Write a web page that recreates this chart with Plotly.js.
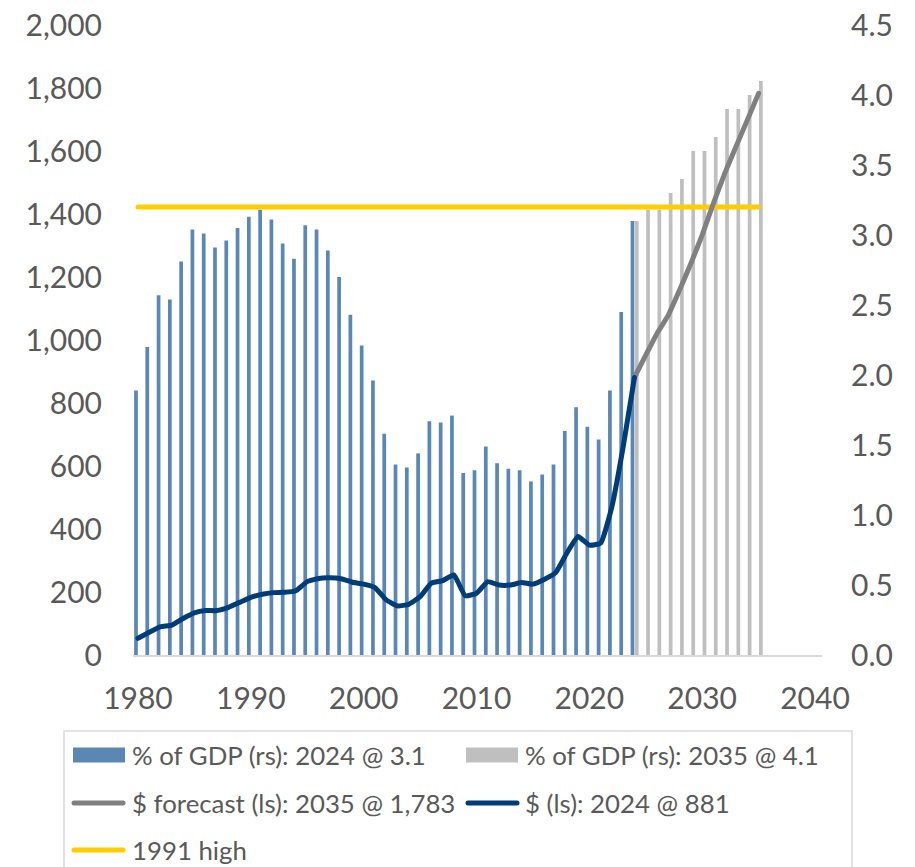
<!DOCTYPE html>
<html>
<head>
<meta charset="utf-8">
<script src="https://cdn.plot.ly/plotly-3.0.1.min.js"></script>
<style>
html,body{margin:0;padding:0;background:#fff;}
#chart{width:915px;height:867px;}
path.js-line{stroke-linecap:round;stroke-linejoin:round;}
.shapelayer path{stroke-linecap:round;}
</style>
</head>
<body>
<div id="chart"></div>
<script>
// ---- data ----
const histYears = [1980,1981,1982,1983,1984,1985,1986,1987,1988,1989,1990,1991,1992,1993,1994,1995,1996,1997,1998,1999,2000,2001,2002,2003,2004,2005,2006,2007,2008,2009,2010,2011,2012,2013,2014,2015,2016,2017,2018,2019,2020,2021,2022,2023,2024];
const histPctGDP = [1.89,2.20,2.57,2.54,2.81,3.04,3.01,2.91,2.96,3.05,3.13,3.18,3.11,2.94,2.83,3.07,3.04,2.89,2.70,2.43,2.21,1.96,1.58,1.36,1.34,1.44,1.67,1.66,1.71,1.30,1.32,1.49,1.37,1.33,1.32,1.24,1.29,1.36,1.60,1.77,1.63,1.54,1.89,2.45,3.10];
const histDollars = [53,72,90,95,116,134,141,141,151,167,183,193,198,199,204,233,243,245,242,231,225,214,175,156,161,185,228,236,254,188,196,233,222,222,230,225,240,261,323,376,349,355,471,661,881];
const fcYears = [2024,2025,2026,2027,2028,2029,2030,2031,2032,2033,2034,2035];
const fcPctGDP = [3.10,3.18,3.18,3.30,3.40,3.60,3.60,3.70,3.90,3.90,4.00,4.10];
const fcDollars = [881,952,1021,1079,1159,1243,1333,1434,1529,1614,1698,1783];
const highYears = [1980,2035];
const highPct = [3.2,3.2];
const seriesNames = ["% of GDP (rs): 2024 @ 3.1","% of GDP (rs): 2035 @ 4.1","$ forecast (ls): 2035 @ 1,783","$ (ls): 2024 @ 881","1991 high"];
const xTicks = [1980,1990,2000,2010,2020,2030,2040];
const leftTicks = [0,200,400,600,800,1000,1200,1400,1600,1800,2000];
const leftTickText = ["0","200","400","600","800","1,000","1,200","1,400","1,600","1,800","2,000"];
const rightTicks = [0,0.5,1,1.5,2,2.5,3,3.5,4,4.5];
const rightTickText = ["0.0","0.5","1.0","1.5","2.0","2.5","3.0","3.5","4.0","4.5"];

// ---- styles ----
const cBlue = "#5B87B5", cGreyBar = "#BFBFBF", cGreyLine = "#808080", cNavy = "#003C78", cYellow = "#FFCC00";
const txt = "#595959";
const FONT = "Lato, 'Open Sans', sans-serif";

const traces = [
  {type:"bar", x:histYears, y:histPctGDP, yaxis:"y", width:0.33, offset:-0.34, marker:{color:cBlue}, name:seriesNames[0]},
  {type:"bar", x:fcYears, y:fcPctGDP, yaxis:"y", width:0.33, offset:0.04, marker:{color:cGreyBar}, name:seriesNames[1]},
  {type:"scatter", mode:"lines", x:highYears, y:highPct, yaxis:"y", line:{color:cYellow, width:5}, name:seriesNames[4]},
  {type:"scatter", mode:"lines", x:fcYears, y:fcDollars, yaxis:"y2", line:{color:cGreyLine, width:5, shape:"spline", smoothing:0.4}, name:seriesNames[2]},
  {type:"scatter", mode:"lines", x:histYears, y:histDollars, yaxis:"y2", line:{color:cNavy, width:5, shape:"spline", smoothing:0.4}, name:seriesNames[3]}
];

// plot area in pixels
const L = 133, R = 822, T = 25, B = 655;
const W = 915, H = 867;
const px = v => (v - L) / (R - L);
const py = v => (B - v) / (B - T);

const shapes = [
  {type:"rect", xref:"paper", yref:"paper", x0:px(64), x1:px(852), y0:py(731), y1:py(900), line:{color:"#D9D9D9", width:1.5}, fillcolor:"rgba(0,0,0,0)"}
];
const annotations = [];
const legendItems = [
  {kind:"rect", color:cBlue, x:73, y:755, tx:130},
  {kind:"rect", color:cGreyBar, x:466, y:755, tx:523},
  {kind:"line", color:cGreyLine, x:71, y:803, tx:130},
  {kind:"line", color:cNavy, x:465, y:803, tx:523},
  {kind:"line", color:cYellow, x:71, y:850, tx:130}
];
legendItems.forEach((it, i) => {
  if (it.kind === "rect") {
    shapes.push({type:"rect", xref:"paper", yref:"paper", x0:px(it.x), x1:px(it.x+52), y0:py(it.y+7.5), y1:py(it.y-7.5), line:{width:0}, fillcolor:it.color});
  } else {
    shapes.push({type:"line", xref:"paper", yref:"paper", x0:px(it.x+3), x1:px(it.x+52), y0:py(it.y), y1:py(it.y), line:{color:it.color, width:5}});
  }
  annotations.push({xref:"paper", yref:"paper", x:px(it.tx), y:py(it.y), xanchor:"left", yanchor:"middle", showarrow:false, text:seriesNames[i], font:{family:FONT, size:25.8, color:txt}});
});

const layout = {
  width: W, height: H,
  margin: {l:L, r:W-R, t:T, b:H-B, pad:0},
  paper_bgcolor:"#fff", plot_bgcolor:"#fff",
  showlegend:false,
  barmode:"overlay",
  font:{family:FONT, color:txt},
  xaxis:{range:[1979.56,2040.62], tickvals:xTicks, ticktext:xTicks.map(String), showgrid:false, zeroline:false,
         showline:true, linecolor:"#D9D9D9", linewidth:1.5, ticks:"", ticklabelstandoff:16, tickfont:{family:FONT, size:30, color:txt}},
  yaxis:{range:[0,4.5], side:"right", tickvals:rightTicks, ticktext:rightTickText, showgrid:false, zeroline:false, showline:false,
         ticks:"", ticklabelstandoff:28, tickfont:{family:FONT, size:30, color:txt}},
  yaxis2:{range:[0,2000], side:"left", overlaying:"y", tickvals:leftTicks, ticktext:leftTickText, showgrid:false, zeroline:false, showline:false,
         ticks:"", ticklabelstandoff:30, tickfont:{family:FONT, size:30, color:txt}},
  shapes: shapes,
  annotations: annotations
};

Plotly.newPlot("chart", traces, layout, {displayModeBar:false, staticPlot:true});
</script>
</body>
</html>
